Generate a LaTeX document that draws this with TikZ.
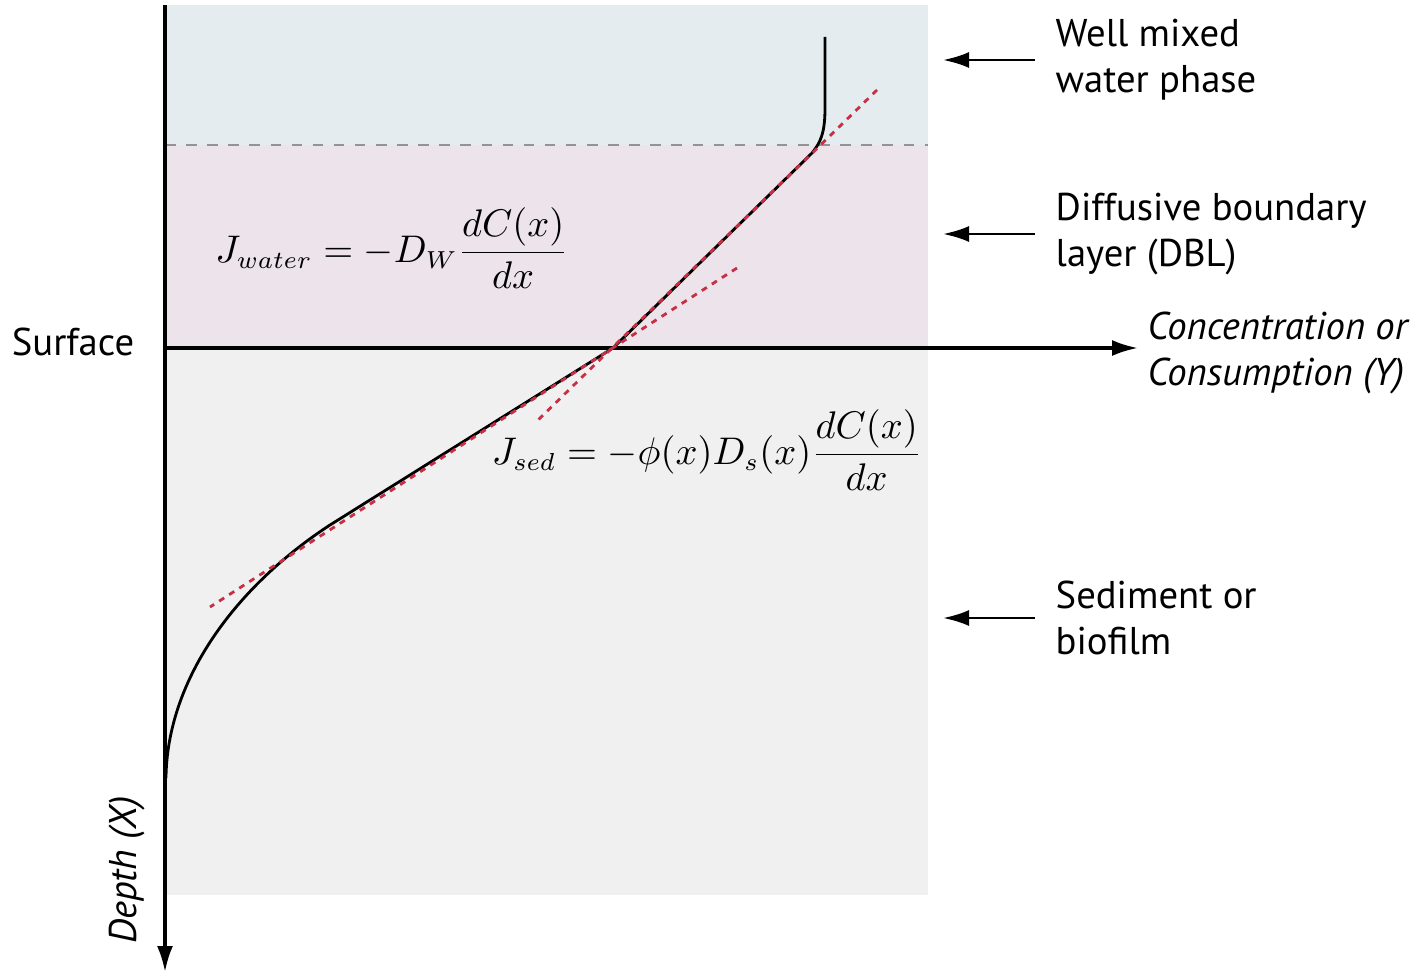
\documentclass[tikz,border=0pt]{standalone}
\usepackage{amsmath}
\usepackage{fontspec}
\setmainfont{PT Sans}
\usetikzlibrary{arrows.meta,positioning}
\definecolor{waterblue}{HTML}{E4ECEF}
\definecolor{dblpink}{HTML}{ECE4EA}
\definecolor{sedgrey}{HTML}{F0F0F0}
\definecolor{tanred}{HTML}{C62F45}

\begin{document}
\begin{tikzpicture}[x=0.01cm,y=-0.01cm,font=\fontsize{11}{13}\selectfont,
    axis/.style={line width=0.9pt,-{Latex[length=2.6mm,width=1.6mm]}},
    pointer/.style={line width=0.8pt,-{Latex[length=2.6mm,width=1.6mm]},shorten <=2mm},
    layer/.style={anchor=west,align=left,inner sep=0pt},
    tangent/.style={tanred,line width=0.8pt,dash pattern=on 1.7pt off 1.7pt},
    flux/.style={font=\fontsize{10.6}{13}\selectfont}]
  \useasboundingbox (0,0) rectangle (1413,976);
  % layers
  \fill[waterblue] (165,5) rectangle (928,145);
  \fill[dblpink] (165,145) rectangle (928,348);
  \fill[sedgrey] (165,348) rectangle (928,895);
  \draw[gray!85,line width=0.6pt,dash pattern=on 3pt off 3pt] (165,145) -- (928,145);

  % axes
  \coordinate (O) at (165,348);
  \coordinate (ytop) at (165,5);
  \coordinate (ybot) at (165,972);
  \coordinate (yend) at (1138,348);
  \draw[axis] (O) -- (yend);
  \draw[axis] (ytop) -- (ybot);
  \node (surf) at (73,342) {Surface};
  \node[layer,font=\fontsize{11}{13}\selectfont\itshape] (conc) at (1147,353) {Concentration or\\Consumption (Y)};
  \node[rotate=90,font=\fontsize{11}{13}\selectfont\itshape] (depth) at (127,870) {Depth (X)};

  % layer labels
  \node[layer] (wm) at (1055,60) {Well mixed\\water phase};
  \node[layer] (dbl) at (1055,234) {Diffusive boundary\\layer (DBL)};
  \node[layer] (sed) at (1055,618) {Sediment or\\biofilm};
  \coordinate (wmtip) at (943,60);
  \coordinate (dbltip) at (943,234);
  \coordinate (sedtip) at (943,618);
  \draw[pointer] (wm.west) -- (wmtip);
  \draw[pointer] (dbl.west) -- (dbltip);
  \draw[pointer] (sed.west) -- (sedtip);

  % profile
  \coordinate (S) at (613,348);
  \draw[line width=0.8pt,line join=round] (825,37) -- (825,108)
    .. controls (825,132) and (821,142) .. (812,153) -- (S) -- (330,525)
    .. controls (235,587) and (167,680) .. (166,778);
  \draw[tangent] (877,90) -- (538,420);
  \draw[tangent] (737,268) -- (210,607);

  % fluxes
  \node[flux] (jw) at (392,248) {$J_{water} = -D_W\dfrac{dC(x)}{dx}$};
  \node[flux] (js) at (707,450) {$J_{sed} = -\phi(x)D_s(x)\dfrac{dC(x)}{dx}$};
\end{tikzpicture}
\end{document}
